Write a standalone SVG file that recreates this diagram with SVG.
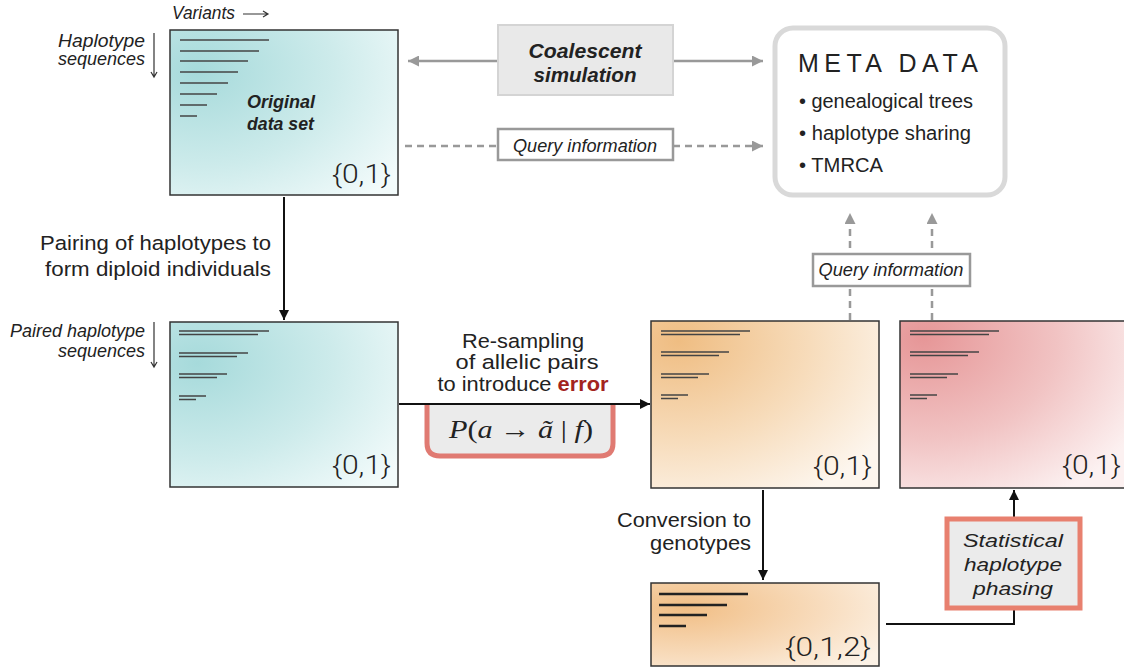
<svg xmlns="http://www.w3.org/2000/svg" width="1124" height="668" viewBox="0 0 1124 668">
<defs>
  <radialGradient id="gTeal" cx="0.15" cy="0.25" r="1.05" fx="0.12" fy="0.25">
    <stop offset="0" stop-color="#a6dadb"/>
    <stop offset="0.55" stop-color="#cdebeb"/>
    <stop offset="1" stop-color="#f3fbfb"/>
  </radialGradient>
  <radialGradient id="gOrange" cx="0.12" cy="0.15" r="1.05" fx="0.12" fy="0.12">
    <stop offset="0" stop-color="#efbd82"/>
    <stop offset="0.55" stop-color="#f7dcbb"/>
    <stop offset="1" stop-color="#fdf6ee"/>
  </radialGradient>
  <radialGradient id="gOrange2" cx="0.15" cy="0.3" r="1.0" fx="0.15" fy="0.3">
    <stop offset="0" stop-color="#f1be85"/>
    <stop offset="0.6" stop-color="#f8dcbd"/>
    <stop offset="1" stop-color="#fcf2e6"/>
  </radialGradient>
  <radialGradient id="gRed" cx="0.12" cy="0.15" r="1.05" fx="0.1" fy="0.1">
    <stop offset="0" stop-color="#e69697"/>
    <stop offset="0.55" stop-color="#f1c3c3"/>
    <stop offset="1" stop-color="#fcf1f1"/>
  </radialGradient>
  <marker id="ahBlack" viewBox="0 0 10 10" refX="10" refY="5" markerWidth="10" markerHeight="10" markerUnits="userSpaceOnUse" orient="auto">
    <path d="M0,0 L10,5 L0,10 z" fill="#111"/>
  </marker>
  <marker id="ahGrey" viewBox="0 0 10 10" refX="10" refY="5" markerWidth="11" markerHeight="11" markerUnits="userSpaceOnUse" orient="auto">
    <path d="M0,0 L10,5 L0,10 z" fill="#999"/>
  </marker>
</defs>
<style>
  .box { stroke:#333; stroke-width:1.5; }
  .seq { stroke:#444; stroke-width:1.5; }
  .seqg { stroke:#222; stroke-width:2.5; }
  .set { font-family:Roboto, "Liberation Sans", sans-serif; font-weight:300; font-size:26px; fill:#222; }
  .lab { font-family:"Liberation Sans", Arial, sans-serif; font-size:20.5px; fill:#222; }
  .it { font-family:"Liberation Sans", Arial, sans-serif; font-style:italic; font-size:17.5px; fill:#222; }
  .bi { font-family:"Liberation Sans", Arial, sans-serif; font-style:italic; font-weight:bold; fill:#222; }
  .meta { font-family:"Liberation Sans", Arial, sans-serif; fill:#222; }
  .grey { stroke:#999; stroke-width:2.5; fill:none; }
  .dash { stroke:#999; stroke-width:2.5; fill:none; stroke-dasharray:7 5; }
  .blk { stroke:#111; stroke-width:2; fill:none; }
  .thin { stroke:#333; stroke-width:1.2; fill:none; }
</style>

<g id="axis-labels">
  <text class="it" x="172" y="19" textLength="63" lengthAdjust="spacingAndGlyphs">Variants</text>
  <path class="thin" d="M243,14 H268 M263,11 L268,14 L263,17"/>
  <text class="it" x="145" y="47" text-anchor="end" textLength="87" lengthAdjust="spacingAndGlyphs">Haplotype</text>
  <text class="it" x="145" y="65" text-anchor="end" textLength="87" lengthAdjust="spacingAndGlyphs">sequences</text>
  <path class="thin" d="M154,33 V77 M151,72 L154,77 L157,72"/>
  <text class="it" x="145" y="337" text-anchor="end" textLength="135" lengthAdjust="spacingAndGlyphs">Paired haplotype</text>
  <text class="it" x="145" y="357" text-anchor="end" textLength="87" lengthAdjust="spacingAndGlyphs">sequences</text>
  <path class="thin" d="M154,322 V367 M151,362 L154,367 L157,362"/>
</g>

<g id="connectors">
  <line class="grey" x1="498" y1="61" x2="408" y2="61" marker-end="url(#ahGrey)"/>
  <line class="grey" x1="673" y1="61" x2="763" y2="61" marker-end="url(#ahGrey)"/>
  <line class="dash" x1="405" y1="146" x2="498" y2="146"/>
  <line class="dash" x1="673" y1="146" x2="763" y2="146" marker-end="url(#ahGrey)"/>
  <line class="dash" x1="850" y1="320" x2="850" y2="213" marker-end="url(#ahGrey)"/>
  <line class="dash" x1="932" y1="320" x2="932" y2="213" marker-end="url(#ahGrey)"/>
  <line class="blk" x1="284" y1="197" x2="284" y2="320" marker-end="url(#ahBlack)"/>
  <line class="blk" x1="399" y1="404" x2="650" y2="404" marker-end="url(#ahBlack)"/>
  <line class="blk" x1="763" y1="490" x2="763" y2="580" marker-end="url(#ahBlack)"/>
  <polyline class="blk" points="886,624 1014,624 1014,608"/>
  <line class="blk" x1="1014" y1="519" x2="1014" y2="490" marker-end="url(#ahBlack)"/>
  <text class="lab" x="271" y="250" text-anchor="end" textLength="231" lengthAdjust="spacingAndGlyphs">Pairing of haplotypes to</text>
  <text class="lab" x="271" y="276" text-anchor="end" textLength="226" lengthAdjust="spacingAndGlyphs">form diploid individuals</text>
  <text class="lab" x="523" y="348" text-anchor="middle" textLength="122" lengthAdjust="spacingAndGlyphs">Re-sampling</text>
  <text class="lab" x="527" y="369" text-anchor="middle" textLength="143" lengthAdjust="spacingAndGlyphs">of allelic pairs</text>
  <text class="lab" x="523" y="391" text-anchor="middle" textLength="171" lengthAdjust="spacingAndGlyphs">to introduce <tspan fill="#a3241e" font-weight="bold">error</tspan></text>
  <text class="lab" x="751" y="527" text-anchor="end" textLength="134" lengthAdjust="spacingAndGlyphs">Conversion to</text>
  <text class="lab" x="751" y="550" text-anchor="end" textLength="101" lengthAdjust="spacingAndGlyphs">genotypes</text>
</g>

<g id="original">
  <rect class="box" x="170" y="30" width="228" height="165" fill="url(#gTeal)"/>
  <g class="seq">
    <line x1="180" y1="40" x2="269" y2="40"/>
    <line x1="180" y1="51" x2="259" y2="51"/>
    <line x1="180" y1="61" x2="248" y2="61"/>
    <line x1="180" y1="72" x2="238" y2="72"/>
    <line x1="180" y1="83" x2="228" y2="83"/>
    <line x1="180" y1="94" x2="217" y2="94"/>
    <line x1="180" y1="105" x2="207" y2="105"/>
    <line x1="180" y1="116" x2="197" y2="116"/>
  </g>
  <text class="bi" x="247" y="108" font-size="18" textLength="68" lengthAdjust="spacingAndGlyphs">Original</text>
  <text class="bi" x="247" y="130" font-size="18" textLength="67" lengthAdjust="spacingAndGlyphs">data set</text>
  <text class="set" x="391" y="183" text-anchor="end" textLength="59" lengthAdjust="spacingAndGlyphs">{0,1}</text>
</g>

<g id="coalescent">
  <rect x="498" y="25" width="175" height="70" fill="#e9e9e9" stroke="#d4d4d4" stroke-width="2"/>
  <text class="bi" x="585" y="58" text-anchor="middle" font-size="20" textLength="113" lengthAdjust="spacingAndGlyphs">Coalescent</text>
  <text class="bi" x="585" y="82" text-anchor="middle" font-size="20" textLength="103" lengthAdjust="spacingAndGlyphs">simulation</text>
</g>

<g id="query1">
  <rect x="498" y="129" width="175" height="31" fill="#fff" stroke="#999" stroke-width="2.5"/>
  <text class="it" x="585" y="152" text-anchor="middle" textLength="144" lengthAdjust="spacingAndGlyphs">Query information</text>
</g>

<g id="metadata">
  <rect x="775" y="28" width="230" height="167" rx="18" fill="#fff" stroke="#d9d9d9" stroke-width="5"/>
  <text class="meta" x="798" y="72" font-size="25" textLength="180" lengthAdjust="spacing">META DATA</text>
  <text class="meta" x="799" y="108" font-size="20" textLength="174" lengthAdjust="spacingAndGlyphs">• genealogical trees</text>
  <text class="meta" x="799" y="140" font-size="20" textLength="172" lengthAdjust="spacingAndGlyphs">• haplotype sharing</text>
  <text class="meta" x="799" y="172" font-size="20" textLength="84" lengthAdjust="spacingAndGlyphs">• TMRCA</text>
</g>

<g id="paired">
  <rect class="box" x="170" y="322" width="228" height="165" fill="url(#gTeal)"/>
  <g class="seq">
    <line x1="179" y1="331" x2="269" y2="331"/>
    <line x1="179" y1="334.5" x2="258" y2="334.5"/>
    <line x1="179" y1="353" x2="248" y2="353"/>
    <line x1="179" y1="356.5" x2="237" y2="356.5"/>
    <line x1="179" y1="374" x2="227" y2="374"/>
    <line x1="179" y1="377.5" x2="217" y2="377.5"/>
    <line x1="179" y1="396" x2="206" y2="396"/>
    <line x1="179" y1="399.5" x2="196" y2="399.5"/>
  </g>
  <text class="set" x="391" y="474" text-anchor="end" textLength="59" lengthAdjust="spacingAndGlyphs">{0,1}</text>
</g>

<g id="error-model">
  <path d="M427,405 V443 Q427,456 440,456 H600 Q613,456 613,443 V405" fill="#ebebeb" stroke="#e07a72" stroke-width="5"/>
  <text x="521" y="438" text-anchor="middle" font-family="'Liberation Serif', 'Times New Roman', serif" font-size="26" fill="#222" textLength="144" lengthAdjust="spacingAndGlyphs"><tspan font-style="italic">P</tspan>(<tspan font-style="italic">a</tspan> → <tspan font-style="italic">ã</tspan> | <tspan font-style="italic">f</tspan>)</text>
</g>

<g id="erroneous">
  <rect class="box" x="651" y="321" width="228" height="167" fill="url(#gOrange)"/>
  <g class="seq">
    <line x1="661" y1="331" x2="750" y2="331"/>
    <line x1="661" y1="334.5" x2="740" y2="334.5"/>
    <line x1="661" y1="352" x2="729" y2="352"/>
    <line x1="661" y1="355.5" x2="719" y2="355.5"/>
    <line x1="661" y1="374" x2="709" y2="374"/>
    <line x1="661" y1="377.5" x2="698" y2="377.5"/>
    <line x1="661" y1="395" x2="688" y2="395"/>
    <line x1="661" y1="398.5" x2="678" y2="398.5"/>
  </g>
  <text class="set" x="872" y="475" text-anchor="end" textLength="59" lengthAdjust="spacingAndGlyphs">{0,1}</text>
</g>

<g id="phased">
  <rect class="box" x="900" y="321" width="228" height="167" fill="url(#gRed)"/>
  <g class="seq">
    <line x1="910" y1="331" x2="999" y2="331"/>
    <line x1="910" y1="334.5" x2="989" y2="334.5"/>
    <line x1="910" y1="352" x2="979" y2="352"/>
    <line x1="910" y1="355.5" x2="968" y2="355.5"/>
    <line x1="910" y1="374" x2="958" y2="374"/>
    <line x1="910" y1="377.5" x2="947" y2="377.5"/>
    <line x1="910" y1="395" x2="937" y2="395"/>
    <line x1="910" y1="398.5" x2="927" y2="398.5"/>
  </g>
  <text class="set" x="1121" y="474" text-anchor="end" textLength="59" lengthAdjust="spacingAndGlyphs">{0,1}</text>
</g>

<g id="query2">
  <rect x="813" y="254" width="157" height="32" fill="#fff" stroke="#999" stroke-width="2.5"/>
  <text class="it" x="891" y="276" text-anchor="middle" textLength="145" lengthAdjust="spacingAndGlyphs">Query information</text>
</g>

<g id="genotypes">
  <rect class="box" x="651" y="583" width="228" height="83" fill="url(#gOrange2)"/>
  <g class="seqg">
    <line x1="659" y1="594" x2="748" y2="594"/>
    <line x1="659" y1="605" x2="727" y2="605"/>
    <line x1="659" y1="615" x2="707" y2="615"/>
    <line x1="659" y1="626" x2="686" y2="626"/>
  </g>
  <text class="set" x="871" y="656" text-anchor="end" textLength="86" lengthAdjust="spacingAndGlyphs">{0,1,2}</text>
</g>

<g id="phasing">
  <rect x="947" y="519" width="133" height="89" fill="#ebebeb" stroke="#e8806f" stroke-width="5"/>
  <text class="it" x="1013" y="547" text-anchor="middle" font-size="20" textLength="100" lengthAdjust="spacingAndGlyphs">Statistical</text>
  <text class="it" x="1013" y="571" text-anchor="middle" font-size="20" textLength="98" lengthAdjust="spacingAndGlyphs">haplotype</text>
  <text class="it" x="1013" y="595" text-anchor="middle" font-size="20" textLength="80" lengthAdjust="spacingAndGlyphs">phasing</text>
</g>
</svg>
